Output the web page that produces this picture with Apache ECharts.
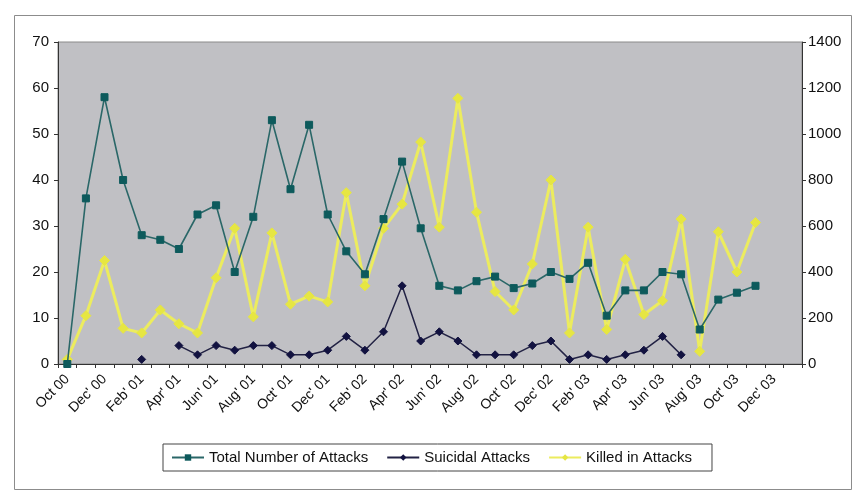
<!DOCTYPE html>
<html>
<head>
<meta charset="utf-8">
<script src="https://cdn.jsdelivr.net/npm/echarts@6/dist/echarts.min.js"></script>
<style>
  html, body { margin: 0; padding: 0; background: #ffffff; }
  #chart { width: 861px; height: 494px; }
</style>
</head>
<body>
<div id="chart"></div>
<script>
// Monthly categories, Oct 2000 through Jan 2004
const months = [
  "Oct 00", "Nov' 00", "Dec' 00", "Jan' 01", "Feb' 01", "Mar' 01", "Apr' 01", "May' 01",
  "Jun' 01", "Jul' 01", "Aug' 01", "Sep' 01", "Oct' 01", "Nov' 01", "Dec' 01", "Jan' 02",
  "Feb' 02", "Mar' 02", "Apr' 02", "May' 02", "Jun' 02", "Jul' 02", "Aug' 02", "Sep' 02",
  "Oct' 02", "Nov' 02", "Dec' 02", "Jan' 03", "Feb' 03", "Mar' 03", "Apr' 03", "May' 03",
  "Jun' 03", "Jul' 03", "Aug' 03", "Sep' 03", "Oct' 03", "Nov' 03", "Dec' 03", "Jan' 04"
];

// Total number of attacks per month (left axis)
const totalAttacks = [
  0, 36, 58, 40, 28, 27, 25, 32.5, 34.5, 20, 32, 53, 38, 52, 32.5, 24.5,
  19.5, 31.5, 44, 29.5, 17, 16, 18, 19, 16.5, 17.5, 20, 18.5, 22, 10.5, 16, 16,
  20, 19.5, 7.5, 14, 15.5, 17, null, null
];

// Suicidal attacks per month (left axis)
const suicidalAttacks = [
  null, null, null, null, 1, null, 4, 2, 4, 3, 4, 4, 2, 2, 3, 6,
  3, 7, 17, 5, 7, 5, 2, 2, 2, 4, 5, 1, 2, 1, 2, 3,
  6, 2, null, null, null, null, null, null
];

// People killed in attacks per month (right axis)
const killedInAttacks = [
  20, 210, 450, 155, 135, 235, 175, 135, 375, 590, 205, 570, 260, 295, 270, 745,
  340, 590, 695, 965, 595, 1155, 660, 315, 235, 435, 800, 135, 595, 150, 455, 215,
  275, 630, 55, 575, 400, 615, null, null
];

// Left and right axis tick values
const leftTicks = [0, 10, 20, 30, 40, 50, 60, 70];
const rightTicks = [0, 200, 400, 600, 800, 1000, 1200, 1400];

const chart = echarts.init(document.getElementById('chart'), null, { renderer: 'canvas' });

const font = '"Liberation Sans", Arial, sans-serif';

chart.setOption({
  animation: false,
  backgroundColor: '#ffffff',
  graphic: [{
    type: 'rect',
    shape: { x: 14.5, y: 15.5, width: 837, height: 474 },
    style: { fill: 'none', stroke: '#8c8c8c', lineWidth: 1 },
    silent: true,
    z: -1
  }],
  grid: {
    left: 58, right: 59, top: 42, bottom: 130,
    show: true,
    backgroundColor: '#c0c0c4',
    borderColor: '#8a8a8a',
    borderWidth: 1
  },
  legend: {
    left: 163, top: 444,
    padding: [6, 20, 6, 8],
    itemGap: 18,
    itemWidth: 32,
    itemHeight: 8,
    borderColor: '#444',
    borderWidth: 1,
    backgroundColor: '#ffffff',
    textStyle: { fontFamily: font, fontSize: 15, color: '#111' },
    data: ['Total Number of Attacks', 'Suicidal Attacks', 'Killed in Attacks']
  },
  xAxis: {
    type: 'category',
    data: months,
    boundaryGap: true,
    axisLine: { lineStyle: { color: '#333', width: 1 } },
    axisTick: { show: true, interval: 0, length: 4, lineStyle: { color: '#333' } },
    axisLabel: {
      interval: 1,
      rotate: 45,
      fontFamily: font,
      fontSize: 14,
      color: '#111',
      margin: 13
    },
    splitLine: { show: false }
  },
  yAxis: [{
    type: 'value',
    min: leftTicks[0],
    max: leftTicks[leftTicks.length - 1],
    interval: leftTicks[1] - leftTicks[0],
    position: 'left',
    axisLine: { show: true, lineStyle: { color: '#333' } },
    axisTick: { show: true, length: 4, lineStyle: { color: '#333' } },
    axisLabel: { fontFamily: font, fontSize: 15, color: '#111', margin: 9 },
    splitLine: { show: false }
  }, {
    type: 'value',
    min: rightTicks[0],
    max: rightTicks[rightTicks.length - 1],
    interval: rightTicks[1] - rightTicks[0],
    position: 'right',
    axisLine: { show: true, lineStyle: { color: '#333' } },
    axisTick: { show: true, length: 4, lineStyle: { color: '#333' } },
    axisLabel: {
      fontFamily: font, fontSize: 15, color: '#111', margin: 6,
      formatter: function (v) { return String(v); }
    },
    splitLine: { show: false }
  }],
  series: [{
    name: 'Total Number of Attacks',
    type: 'line',
    yAxisIndex: 0,
    data: totalAttacks,
    symbol: 'rect',
    symbolSize: 7,
    connectNulls: false,
    lineStyle: { color: '#2a6768', width: 1.6 },
    itemStyle: { color: '#0d5a5c', borderColor: '#0d5a5c' },
    z: 3
  }, {
    name: 'Suicidal Attacks',
    type: 'line',
    yAxisIndex: 0,
    data: suicidalAttacks,
    symbol: 'diamond',
    symbolSize: 8,
    connectNulls: false,
    lineStyle: { color: '#222244', width: 1.5 },
    itemStyle: { color: '#121240', borderColor: '#121240' },
    z: 4
  }, {
    name: 'Killed in Attacks',
    type: 'line',
    yAxisIndex: 1,
    data: killedInAttacks,
    symbol: 'diamond',
    symbolSize: 10,
    connectNulls: false,
    lineStyle: { color: '#ecec5e', width: 3 },
    itemStyle: { color: '#e6e642', borderColor: '#e6e642' },
    z: 2
  }]
});
</script>
</body>
</html>
